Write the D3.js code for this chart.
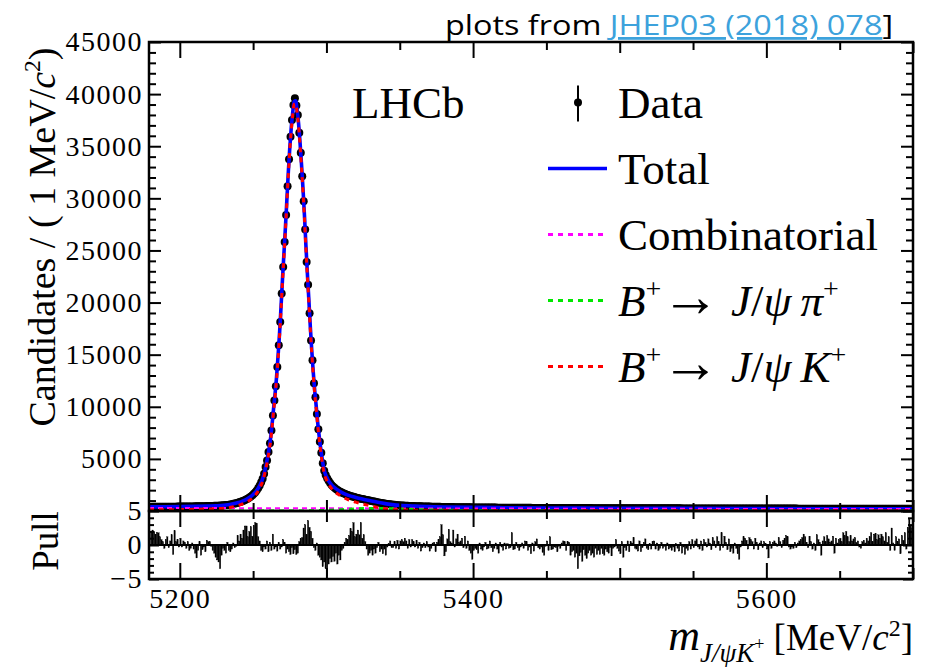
<!DOCTYPE html>
<html><head><meta charset="utf-8">
<script src="https://cdn.jsdelivr.net/npm/d3@7/dist/d3.min.js"></script>
<style>html,body{margin:0;padding:0;background:#fff;}svg{display:block}</style>
</head><body>
<svg id="chart" width="943" height="667"></svg>
<script>
// ---------------- data ----------------
// candidates per 1 MeV bin, first bin centre 5180.5
const dataCounts = [
396,397,399,400,401,402,403,404,405,407,
408,409,411,412,414,415,417,418,420,421,
423,425,427,429,431,433,435,438,440,443,
445,448,451,454,457,460,463,467,471,475,
479,484,489,494,500,506,513,520,530,540,
555,568,583,600,620,655,690,720,755,790,
830,880,930,990,1050,1120,1200,1290,1400,1520,
1650,1800,1980,2200,2450,2750,3100,
3570,4210,4850,5650,6510,7730,9170,10610,11960,13810,15900,18140,20860,23420,25820,28390,31170,33740,35900,37510,38950,39600,
38900,38000,36300,34370,32130,29730,27010,23900,21700,18980,16370,14460,12250,10910,9310,7840,6650,5600,4580,3870,
3450,3150,2900,2680,2500,2350,2230,2120,2020,1930,1850,1780,1710,1650,1590,1540,1490,1440,1400,1360,1320,1280,1240,1210,1180,1150,1120,1090,1060,1030,1000,
970,940,910,880,850,820,790,765,740,715,695,675,655,637,620,604,589,575,562,550,539,529,519,510,502,494,487,480,474,468,
464,459,454,449,445,441,437,433,429,426,
422,418,414,410,406,402,399,396,393,390,
387,385,382,380,377,375,372,370,368,366,
364,362,360,358,356,354,352,350,348,346,
344,343,341,340,339,337,336,335,333,332,
331,329,328,327,325,324,323,321,320,319,
317,316,315,314,314,313,312,311,310,309,
308,307,306,305,305,304,303,302,301,300,
299,298,297,297,296,295,294,293,292,292,
291,290,290,289,289,288,288,287,287,286,
286,285,285,284,284,283,283,282,282,281,
281,280,280,279,279,278,278,277,277,276,
276,275,275,274,274,273,273,272,272,271,
271,270,270,269,269,268,268,267,267,266,
266,266,265,265,265,264,264,264,263,263,
262,262,262,261,261,261,260,260,260,259,
259,259,258,258,258,257,257,256,256,256,
255,255,255,254,254,254,253,253,253,252,
252,252,251,251,251,250,250,250,249,249,
249,248,248,248,247,247,247,246,246,246,
245,245,245,244,244,244,243,243,243,242,
242,242,241,241,241,240,240,240,239,239,
239,238,238,238,237,237,237,236,236,236,
235,235,235,234,234,234,233,233,233,233,
233,232,232,232,232,231,231,231,231,230,
230,230,230,229,229,229,229,228,228,228,
228,227,227,227,227,226,226,226,226,225,
225,225,225,224,224,224,224,223,223,223,
222,222,222,222,221,221,221,221,220,220,
220,220,219,219,219,219,218,218,218,218,
217,217,217,217,216,216,216,216,215,215,
215,215,214,214,214,214,213,213,213,213,
212,212,212,212,211,211,211,211,210,210,
210,210,209,209,209,209,208,208,208,208
];

// pull per bin (same binning)
const pullValues = [
2.0,2.2,2.0,1.6,1.8, 1.8,1.2,0.8,0.5,-0.5, 0.8,1.2,-0.4,0.6,1.5, -1.4,2.1,0.5,0.8,-0.3,
1.0,-0.3,0.6,0.4,-0.5, 0.5,-0.8,-0.5,0.3,-0.6, -1.2,-1.9,-0.8,0.5,-1.5, -0.7,-0.3,-1.0,0.7,0.5,
0.5,-0.2,-0.8,-1.2,-1.8, -2.2,-2.5,-3.5,-1.5,-0.5, -0.8,-1.2,0.4,-0.8,-1.0, -0.6,0.3,-0.4,-0.2,1.4,
0.6,1.6,1.0,2.2,2.8, 2.8,1.2,2.0,2.7,1.3, 2.9,3.3,3.2,1.2,0.6, -0.8,-1.0,-0.3,-0.6,0.6,
-1.0,0.4,-0.8,1.6,-0.6, -0.3,-0.9,0.4,-0.6,-0.3, 0.8,0.4,-1.2,-0.6,-1.0, -1.4,-0.4,-1.3,-0.7,-1.4,
-1.2,0.5,1.0,1.1,2.5, 3.0,1.5,3.6,2.6,2.0, 1.0,-0.4,-0.8,0.3,-1.5, -1.8,-2.2,-3.2,-2.5,-3.5,
-4.6,-2.8,-2.0,-2.5,-1.7, -2.4,-1.2,-2.8,-1.5,-2.2, -0.8,-0.5,0.4,1.0,0.8, 1.4,2.4,2.0,3.3,1.2,
1.6,2.2,1.5,3.3,1.0, 1.5,0.5,-0.6,-1.5,-1.2, -0.8,-1.5,-0.6,-1.2,-0.4, 0.4,-1.0,-0.6,-1.3,-0.6,
-1.5,-0.3,0.2,0.6,-0.4, -0.4,0.5,-0.5,0.7,-0.6, 0.6,
0.8,0.5,1.0,0.6,-0.5, 0.8,-0.3,0.8,0.5,-0.3, 0.7,-0.5,0.4,-0.9,-0.4, 0.3,-0.4,0.5,-0.3,-0.9,
-0.5,0.3,0.4,-1.0,0.4, 0.8,1.2,3.0,1.5,-1.6, -1.0,0.9,2.3,0.5,0.3, 2.2,-0.3,0.9,1.6,0.4,
0.6,1.0,-0.4,1.3,-0.5, 0.6,-0.8,-1.2,-2.1,-0.8, -0.5,-0.7,-1.2,0.3,-0.6, -0.8,-0.3,0.4,-0.6,-0.5,
0.6,-0.4,-1.0,-0.5,0.3, -0.6,-1.2,0.4,-0.3,-0.8, 0.3,-0.6,0.2,-0.5,-0.4, 1.8,-0.7,-0.6,0.4,-0.4,
-0.8,-0.3,0.3,-0.5,0.6, 0.5,-0.8,-0.3,-1.3,0.3, -0.9,0.5,0.9,-0.4,-0.6, -0.3,-1.1,-1.5,-0.2,0.6,
-0.8,1.2,-0.7,-0.6,-0.3, -0.4,-1.0,-0.2,-0.5,0.3, 0.6,0.5,-0.8,0.5,0.4, -1.5,-1.0,-0.8,-1.8,-1.2,
-3.5,-1.6,-1.1,-2.4,-0.7, -1.5,-2.0,-1.2,-0.8,-1.5, -1.2,-1.8,-0.5,-1.4,-0.8, -1.4,-0.5,-1.3,-1.5,-0.6,
-1.0,-1.2,-0.4,-1.6,-0.5, -0.3,0.8,-0.5,-0.9,-1.3, 0.5,-1.8,-0.4,-0.8,0.6, -1.0,0.5,0.3,1.1,-0.5,
-0.6,-0.9,0.6,-1.0,-0.4, 0.4,0.9,-0.5,-0.7,0.2, -0.6,0.5,0.6,
-0.6,0.3,-0.8,-0.5,0.4, -0.5,-0.2,-0.8,0.3,-0.6, -0.4,-0.8,-0.3,-1.0,0.2, -0.5,-0.9,0.4,-1.2,-0.3,
-1.4,-0.5,-0.8,0.5,-0.6, 0.8,-0.4,0.6,0.9,-0.3, -0.6,0.6,-0.8,0.8,0.4, -0.3,0.9,0.3,-0.7,1.1,
0.6,-0.4,1.2,0.5,-0.8, 1.8,-0.4,1.3,0.4,-0.7, 0.9,-1.0,-0.5,-1.2,0.3, -0.5,-1.3,-2.1,-0.3,0.6,
1.2,1.0,0.7,-0.6,1.1, 0.8,0.5,-0.6,1.0,0.4, -0.7,0.3,0.6,-0.4,0.5, 0.2,-0.6,-1.9,0.5,-0.5,
0.4,0.6,0.3,-0.2,1.1, 0.5,-0.4,0.7,1.0,1.4, 1.2,-0.3,-0.6,-0.3,-0.5, 0.4,-0.4,0.3,0.6,0.8,
1.1,1.6,1.2,0.4,-0.4, 1.3,0.5,-0.6,0.3,-0.8, 1.5,0.8,0.4,-1.5,0.6, 1.2,0.5,1.4,0.9,0.4,
0.6,1.3,-1.2,1.0,0.3, 0.8,1.0,0.5,1.8,1.4, 2.0,1.2,0.5,1.4,0.6, 0.9,1.1,0.4,0.6,-0.3,
-0.5,0.5,0.7,0.3,1.0, 0.6,1.2,1.8,0.5,1.6, 1.7,0.8,1.5,1.0,1.6, 1.2,0.6,1.8,0.4,1.2,
-0.8,2.5,0.3,-0.8,1.2, 0.5,0.9,-1.3,1.4,0.7, 1.8,-0.6,2.6,3.8,2.9,2.5
];

// fit curves (knots)
const fitMass = [5179,5190,5200,5210,5220,5225,5230,5235,5238,5240,5242,5244,5246,5248,5250,5252,5254,
5255,5256,5257,5258,5259,5260,5261,5262,5263,5264,5265,5266,5267,5268,5269,5270,5271,5272,5273,5274,5275,5276,5277,5278,5279,5280,
5281,5282,5283,5284,5285,5286,5287,5288,5289,5290,5291,5292,5293,5294,5295,5296,5297,5298,5299,5300,5301,
5302,5304,5306,5308,5310,5315,5320,5325,5330,5335,5340,5345,5350,5360,5370,5380,5400,5420,5450,5500,5550,5600,5650,5700];
const fitTotal = [395,405,420,443,478,505,550,640,735,810,905,1020,1160,1340,1585,1890,2320,
2600,2920,3330,3880,4520,5240,6080,7080,8420,9900,11300,12880,14850,17000,19500,22150,24650,27150,29800,32500,34850,36750,38250,39300,39350,38500,
37200,35350,33250,30950,28400,25500,22800,20300,17700,15400,13350,11550,10100,8550,7250,6100,5100,4220,3650,3300,3020,
2790,2430,2190,1980,1815,1500,1300,1135,985,835,705,615,545,468,424,390,345,318,291,266,249,233,220,207];
const fitSignal = [105,118,135,161,198,226,273,364,460,535,631,746,887,1067,1313,1618,2049,
2330,2650,3060,3610,4250,4970,5810,6810,8150,9630,11030,12610,14580,16730,19230,21880,24380,26880,29530,32230,34580,36480,37980,39030,39080,38230,
36930,35080,32980,30680,28125,25225,22520,20020,17420,15120,13065,11260,9805,8250,6945,5796,4792,3908,3334,2981,2694,
2457,2075,1822,1602,1429,1080,846,661,493,347,225,156,108,83,76,69,64,56,50,45,40,35,30,25];
const combMass = [5179,5250,5300,5350,5400,5450,5500,5550,5600,5650,5700];
const combValues = [290,272,259,247,236,226,216,207,198,190,182];
const misMass = [5179,5260,5280,5290,5300,5310,5320,5330,5340,5350,5360,5370,5380,5400,5420,5450,5500,5550,5600,5700];
const misValues = [0,0,5,20,60,130,200,240,230,190,140,105,80,45,30,15,5,2,1,0];

// axes / labels
const yMajorTicks = [0,5000,10000,15000,20000,25000,30000,35000,40000,45000];
const yTickLabels = [5000,10000,15000,20000,25000,30000,35000,40000,45000];
const xMajorTicks = [5200,5400,5600];
const xMidTicks = [5300,5500,5700];
const xMinorTicks = [5250,5350,5450,5550,5650];
const pullMajorTicks = [-5,0,5];
const legendLabels = ["Data","Total","Combinatorial",
  "<i>B</i><sup>+</sup><a>→</a> <i>J</i>/<i>ψ\u2009π</i><sup>+</sup>",
  "<i>B</i><sup>+</sup><a>→</a> <i>J</i>/<i>ψ\u2009K</i><sup>+</sup>"];
const legendColors = ["#000000","#0000ff","#ff00ff","#00e600","#ff0000"];

// ---------------- drawing ----------------
const L = 149, R = 913, T = 42, MB = 511, PB = 579;
const serif = "'Liberation Serif','Times New Roman',serif";
const svg = d3.select("#chart");

const x = d3.scaleLinear().domain([5179, 5700]).range([L, R]);
const y = d3.scaleLinear().domain([0, 45000]).range([MB, T]);
const yp = d3.scaleLinear().domain([-5, 5]).range([PB, MB]);

svg.append("defs").append("clipPath").attr("id","mainclip")
  .append("rect").attr("x",L).attr("y",T).attr("width",R-L).attr("height",MB-T-1);

const binCenters = dataCounts.map((_, i) => 5180.5 + i);
const mainG = svg.append("g").attr("clip-path","url(#mainclip)");

// data points
const pts = dataCounts.map((c, i) => ({m: binCenters[i], c}));
mainG.append("g").selectAll("line").data(pts).join("line")
  .attr("x1", d => x(d.m)).attr("x2", d => x(d.m))
  .attr("y1", d => y(d.c + Math.sqrt(d.c))).attr("y2", d => y(d.c - Math.sqrt(d.c)))
  .attr("stroke","#000").attr("stroke-width",1.2);
mainG.append("g").selectAll("circle").data(pts).join("circle")
  .attr("cx", d => x(d.m)).attr("cy", d => y(d.c)).attr("r", 4).attr("fill","#000");

const lineGen = d3.line().x(d => x(d[0])).y(d => y(d[1])).curve(d3.curveMonotoneX);
mainG.append("path").attr("d", lineGen(d3.zip(fitMass, fitTotal)))
  .attr("fill","none").attr("stroke","#0000ff").attr("stroke-width",3.6);
mainG.append("path").attr("d", lineGen(d3.zip(combMass, combValues)))
  .attr("fill","none").attr("stroke","#ff00ff").attr("stroke-width",2).attr("stroke-dasharray","5,4");
mainG.append("path").attr("d", lineGen(d3.zip(misMass, misValues)))
  .attr("fill","none").attr("stroke","#00e600").attr("stroke-width",3).attr("stroke-dasharray","5,5");
mainG.append("path").attr("d", lineGen(d3.zip(fitMass, fitSignal)))
  .attr("fill","none").attr("stroke","#ff0000").attr("stroke-width",3).attr("stroke-dasharray","5,5");

// pull histogram
const bw = x(5181) - x(5180);
svg.append("g").selectAll("rect")
  .data(pullValues.map((v,i)=>({m: binCenters[i], v}))).join("rect")
  .attr("x", d => x(d.m) - bw/2)
  .attr("width", bw*0.95)
  .attr("y", d => Math.min(yp(d.v), yp(0)))
  .attr("height", d => Math.abs(yp(d.v) - yp(0)))
  .attr("fill","#000").attr("stroke","#000").attr("stroke-width",0.3);
svg.append("line").attr("x1",L).attr("x2",R).attr("y1",yp(0)).attr("y2",yp(0))
  .attr("stroke","#000").attr("stroke-width",1.8);

// axes ticks
function ticks(axis, tx, ty, labelled) {
  const g = svg.append("g").attr("transform",`translate(${tx},${ty})`).call(axis);
  g.select(".domain").remove();
  g.selectAll(".tick line").attr("stroke","#000").attr("stroke-width",2);
  g.selectAll("text").attr("fill","#000").style("font-family",serif).style("font-size","28px")
    .style("letter-spacing","1.5px");
  if (!labelled) g.selectAll("text").remove();
  return g;
}
const xLevels = [[xMajorTicks,16],[xMidTicks,11],[xMinorTicks,8]];
xLevels.forEach(([vals,len]) => {
  ticks(d3.axisBottom(x).tickValues(vals).tickSizeInner(-len).tickSizeOuter(0).tickFormat(""), 0, MB, false);
  ticks(d3.axisTop(x).tickValues(vals).tickSizeInner(-len).tickSizeOuter(0).tickFormat(""), 0, T, false);
  ticks(d3.axisTop(x).tickValues(vals).tickSizeInner(-len).tickSizeOuter(0).tickFormat(""), 0, MB, false);
});
ticks(d3.axisBottom(x).tickValues(xMajorTicks).tickSizeInner(-16).tickSizeOuter(0).tickPadding(9).tickFormat(d3.format("d")), 0, PB, true);
ticks(d3.axisBottom(x).tickValues(xMidTicks).tickSizeInner(-11).tickSizeOuter(0).tickFormat(""), 0, PB, false);
ticks(d3.axisBottom(x).tickValues(xMinorTicks).tickSizeInner(-8).tickSizeOuter(0).tickFormat(""), 0, PB, false);

const yMinor = d3.range(0, 45001, 1000).filter(v => v % 5000 !== 0);
ticks(d3.axisLeft(y).tickValues(yTickLabels).tickSizeInner(-12).tickSizeOuter(0).tickPadding(6).tickFormat(d3.format("d")), L, 0, true);
ticks(d3.axisLeft(y).tickValues(yMinor).tickSizeInner(-7).tickSizeOuter(0).tickFormat(""), L, 0, false);
ticks(d3.axisRight(y).tickValues(yMajorTicks).tickSizeInner(-12).tickSizeOuter(0).tickFormat(""), R, 0, false);
ticks(d3.axisRight(y).tickValues(yMinor).tickSizeInner(-7).tickSizeOuter(0).tickFormat(""), R, 0, false);

const pMinor = d3.range(-4, 5, 1).filter(v => v !== 0);
ticks(d3.axisLeft(yp).tickValues(pullMajorTicks).tickSizeInner(-10).tickSizeOuter(0).tickPadding(6).tickFormat(d3.format("d")), L, 0, true);
ticks(d3.axisLeft(yp).tickValues(pMinor).tickSizeInner(-5).tickSizeOuter(0).tickFormat(""), L, 0, false);
ticks(d3.axisRight(yp).tickValues(pullMajorTicks).tickSizeInner(-10).tickSizeOuter(0).tickFormat(""), R, 0, false);
ticks(d3.axisRight(yp).tickValues(pMinor).tickSizeInner(-5).tickSizeOuter(0).tickFormat(""), R, 0, false);

// frames
svg.append("rect").attr("x",L).attr("y",T).attr("width",R-L).attr("height",MB-T)
  .attr("fill","none").attr("stroke","#000").attr("stroke-width",2.5);
svg.append("rect").attr("x",L).attr("y",MB).attr("width",R-L).attr("height",PB-MB)
  .attr("fill","none").attr("stroke","#000").attr("stroke-width",2.5);

// rich text helper: <i> italic, <sup>, <sub>, <a> enlarged arrow
function rich(sel, markup, base) {
  const re = /<(i|sup|sub|a)>(.*?)<\/\1>|([^<]+)/g;
  let m, shift = 0;
  while ((m = re.exec(markup)) !== null) {
    const kind = m[1] || "n", txt = m[2] !== undefined ? m[2] : m[3];
    let target = 0, size = base, style = "normal";
    if (kind === "sup") { target = -0.4*base; size = 0.62*base; }
    if (kind === "sub") { target = 0.3*base; size = 0.68*base; }
    if (kind === "a") { size = 1.3*base; }
    if (kind === "i") style = "italic";
    sel.append("tspan").attr("dy", target - shift).style("font-size", size+"px")
      .style("font-style", style).text(txt);
    shift = target;
  }
}

// LHCb
svg.append("text").attr("x",352).attr("y",118).style("font-family",serif).style("font-size","45px")
  .text("LHCb");

// legend
const rowY = d3.range(legendLabels.length).map(i => 102.5 + 66*i);
legendLabels.forEach((lab, i) => {
  const cy = rowY[i];
  if (i === 0) {
    svg.append("line").attr("x1",578).attr("x2",578).attr("y1",cy-17).attr("y2",cy+19)
      .attr("stroke","#000").attr("stroke-width",2);
    svg.append("circle").attr("cx",578).attr("cy",cy).attr("r",4).attr("fill","#000");
  } else {
    svg.append("line").attr("x1",548).attr("x2",i===1?607:604).attr("y1",cy).attr("y2",cy)
      .attr("stroke",legendColors[i]).attr("stroke-width", i===1?3.6:3)
      .attr("stroke-dasharray", i===1 ? null : "5,5");
  }
  const t = svg.append("text").attr("x",618).attr("y",cy+15).style("font-family",serif).style("font-size","45px");
  rich(t, lab, 45);
});

// y title
const yt = svg.append("text").attr("transform","translate(55,237) rotate(-90)")
  .attr("text-anchor","middle").style("font-family",serif).style("font-size","38px");
rich(yt, "Candidates / ( 1 MeV/<i>c</i><sup>2</sup>)", 38);

// pull title
svg.append("text").attr("transform","translate(58,541) rotate(-90)").attr("text-anchor","middle")
  .style("font-family",serif).style("font-size","37px").text("Pull");

// x title
const xt = svg.append("text").attr("x",913).attr("y",650).attr("text-anchor","end")
  .style("font-family",serif).style("font-size","37px");
xt.append("tspan").style("font-style","italic").style("font-size","44px").text("m");
xt.append("tspan").attr("dy",12).style("font-size","27px").style("font-style","italic").text("J/ψK");
xt.append("tspan").attr("dy",-12).style("font-size","18px").text("+");
xt.append("tspan").attr("dy",0).style("font-size","37px").text(" [MeV/");
xt.append("tspan").style("font-style","italic").text("c");
xt.append("tspan").attr("dy",-14).style("font-size","24px").text("2");
xt.append("tspan").attr("dy",14).style("font-size","37px").text("]");

// header
const hd = svg.append("text").attr("x",445).attr("y",35)
  .attr("textLength",448).attr("lengthAdjust","spacingAndGlyphs")
  .style("font-family","'Open Sans','Noto Sans',sans-serif").style("font-size","28px");
hd.append("tspan").attr("fill","#000").text("plots from ");
hd.append("tspan").attr("fill","#3da2dc").style("text-decoration","underline").text("JHEP03 (2018) 078");
hd.append("tspan").attr("fill","#000").text("]");
</script>
</body></html>
